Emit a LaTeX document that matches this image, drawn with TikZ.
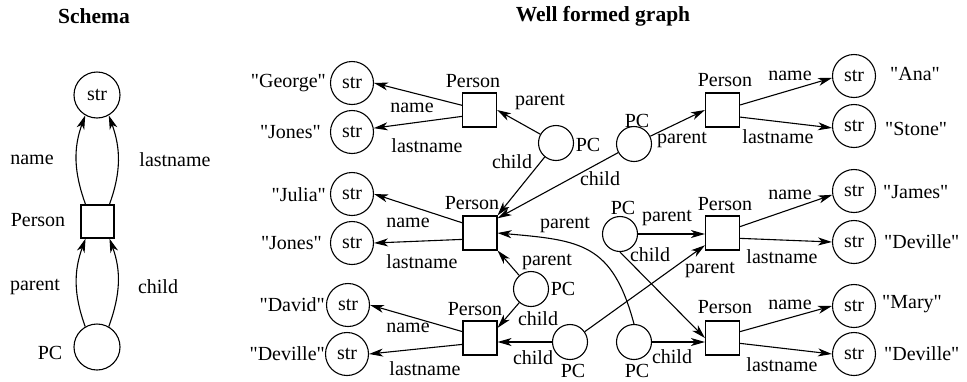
\documentclass[tikz,border=0pt]{standalone}
\usepackage{fontspec}
\setmainfont{Liberation Serif}[Ligatures=TeXOff]
\usetikzlibrary{arrows.meta,calc}
\tikzset{
  every node/.style={font=\fontsize{20}{24}\selectfont, inner sep=0pt},
  strn/.style={circle, draw, line width=1.1pt, minimum size=43pt},
  pcn/.style={circle, draw, line width=1.1pt, minimum size=35pt},
  pers/.style={rectangle, draw, line width=1.1pt, minimum size=34pt},
  arr/.style={line width=1.1pt, -{Stealth[length=14pt,width=8pt,inset=4pt]}},
  ttl/.style={font=\fontsize{21.5}{25}\selectfont\bfseries}
}
\begin{document}
\begin{tikzpicture}[x=1pt,y=1pt]
\useasboundingbox (0,0) rectangle (967,-381);
% titles
\node[ttl] (t1) at (94,-16) {Schema};
\node[ttl] (t2) at (603,-16) {Well formed graph};
% ---------- schema ----------
\node[strn, minimum size=46pt] (sS) at (97,-95) {str};
\node[pers, minimum size=33pt] (sP) at (97.5,-221.5) {};
\node[pcn, minimum size=46pt] (sPC) at (97,-347) {};
\node (sl1) at (32,-160) {name};
\node (sl2) at (175,-160) {lastname};
\node (sl3) at (38,-220) {Person};
\node (sl4) at (35,-287) {parent};
\node (sl5) at (158,-287) {child};
\node (sl6) at (50,-353) {PC};
\draw[arr] (sP.125) to[out=110,in=250] (sS.240);
\draw[arr] (sP.55) to[out=70,in=290] (sS.300);
\draw[arr] (sPC.120) to[out=110,in=250] (sP.235);
\draw[arr] (sPC.60) to[out=70,in=290] (sP.305);
% ---------- graph: persons ----------
\node[pers] (P1) at (479.5,-110) {};
\node[pers] (P2) at (480,-233) {};
\node[pers] (P3) at (480,-338) {};
\node[pers] (P6) at (722.5,-110) {};
\node[pers] (P4) at (722.5,-233) {};
\node[pers] (P5) at (722.5,-338) {};
\node (pl1) at (473,-81) {Person};
\node (pl2) at (472,-203) {Person};
\node (pl3) at (475,-309) {Person};
\node (pl6) at (725,-80) {Person};
\node (pl4) at (725,-204) {Person};
\node (pl5) at (725,-307) {Person};
% strings left
\node[strn] (Sg) at (352,-83) {str};
\node[strn] (Sj1) at (352,-132) {str};
\node[strn] (Sju) at (352,-194) {str};
\node[strn] (Sj2) at (352,-243) {str};
\node[strn] (Sd) at (348,-305) {str};
\node[strn] (Sdv1) at (347,-354) {str};
\node[anchor=east] (vg) at (326,-83) {"George"};
\node[anchor=east] (vj1) at (321,-132) {"Jones"};
\node[anchor=east] (vju) at (326,-195) {"Julia"};
\node[anchor=east] (vj2) at (322,-243) {"Jones"};
\node[anchor=east] (vd) at (325,-305) {"David"};
\node[anchor=east] (vdv1) at (325,-354) {"Deville"};
% strings right
\node[strn] (Sa) at (854,-76) {str};
\node[strn] (Sst) at (854,-126) {str};
\node[strn] (SJ) at (854,-191) {str};
\node[strn] (Sdv2) at (854,-242) {str};
\node[strn] (SM) at (854,-306) {str};
\node[strn] (Sdv3) at (854,-354) {str};
\node[anchor=west] (va) at (890,-74) {"Ana"};
\node[anchor=west] (vst) at (885,-129) {"Stone"};
\node[anchor=west] (vJ) at (883,-192) {"James"};
\node[anchor=west] (vdv2) at (884,-242) {"Deville"};
\node[anchor=west] (vM) at (882,-304) {"Mary"};
\node[anchor=west] (vdv3) at (884,-354) {"Deville"};
% PC nodes
\node[pcn] (PC1) at (556,-143) {};
\node[pcn] (PC2) at (634,-144) {};
\node[pcn] (PC3) at (531,-289) {};
\node[pcn] (PC4) at (570,-342) {};
\node[pcn] (PC5) at (634,-342) {};
\node[pcn] (PC6) at (620,-234) {};
\node (c1) at (588,-145) {PC};
\node (c2) at (637,-121) {PC};
\node (c3) at (563,-289) {PC};
\node (c4) at (573,-371) {PC};
\node (c5) at (637,-371) {PC};
\node (c6) at (623,-208) {PC};
% edge labels
\node (e1) at (412,-108) {name};
\node (e2) at (427,-146) {lastname};
\node (e3) at (408,-223) {name};
\node (e4) at (422,-262) {lastname};
\node (e5) at (408,-328) {name};
\node (e6) at (425,-369) {lastname};
\node (e7) at (790,-76) {name};
\node (e8) at (778,-137) {lastname};
\node (e9) at (790,-195) {name};
\node (e10) at (782,-257) {lastname};
\node (e11) at (790,-305) {name};
\node (e12) at (782,-365) {lastname};
\node (f1) at (540,-102) {parent};
\node (f2) at (512,-162) {child};
\node (f3) at (682,-140) {parent};
\node (f4) at (600,-179) {child};
\node (f5) at (565,-225) {parent};
\node (f6) at (547,-262) {parent};
\node (f7) at (538,-319) {child};
\node (f8) at (533,-358) {child};
\node (f9) at (710,-270) {parent};
\node (f10) at (672,-357) {child};
\node (f11) at (667,-218) {parent};
\node (f12) at (650,-255) {child};
% person -> str edges
\draw[arr] (P1.165) -- (Sg.east);
\draw[arr] (P1.200) -- (Sj1.10);
\draw[arr] (P2.150) -- (Sju.east);
\draw[arr] (P2.200) -- (Sj2.east);
\draw[arr] (P3.160) -- (Sd.east);
\draw[arr] (P3.200) -- (Sdv1.east);
\draw[arr] (P6.16) -- (Sa.185);
\draw[arr] (P6.-22) -- (Sst.185);
\draw[arr] (P4.20) -- (SJ.190);
\draw[arr] (P4.-17) -- (Sdv2.west);
\draw[arr] (P5.20) -- (SM.west);
\draw[arr] (P5.-17) -- (Sdv3.west);
% PC -> person edges
\draw[arr] (PC1) -- (P1.east);
\draw[arr] (PC1) -- (P2.north east);
\draw[arr] (PC2) -- (P6.west);
\draw[arr] (PC2) -- (P2.40);
\draw[arr] (PC3) -- (P2.south east);
\draw[arr] (PC3) -- (P3.30);
\draw[arr] (PC4.west) -- (PC4.west -| P3.east);
\draw[arr] (PC4.35) -- (P4.215);
\draw[arr] (PC5.north) to[out=105,in=-5,looseness=1.3] (P2.east);
\draw[arr] (PC5.east) -- (PC5.east -| P5.west);
\draw[arr] (PC6.east) -- (PC6.east -| P4.west);
\draw[arr] (PC6.south) -- (P5.west);
\end{tikzpicture}
\end{document}
